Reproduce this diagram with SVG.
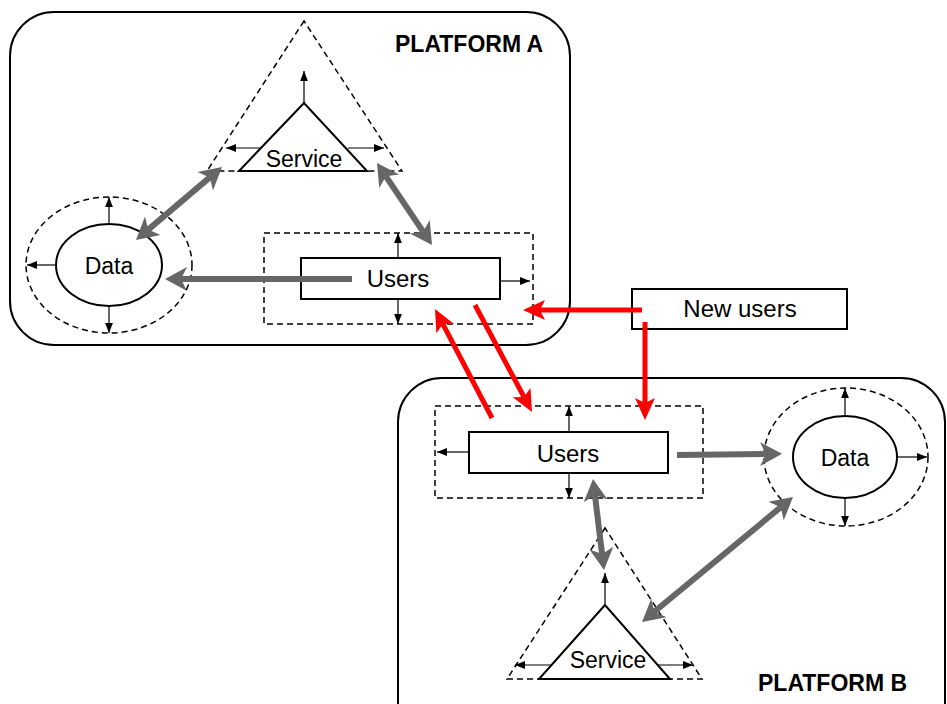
<svg xmlns="http://www.w3.org/2000/svg" width="947" height="704" viewBox="0 0 947 704">
<style>
.plat{fill:none;stroke:#000;stroke-width:2}
.dash{fill:none;stroke:#000;stroke-width:1.5;stroke-dasharray:6,4}
.solid{fill:#fff;stroke:#000;stroke-width:2}
.small{stroke:#000;stroke-width:1.2;fill:none;marker-end:url(#sm)}
.gray{stroke:#666;stroke-width:6;fill:none;marker-end:url(#gh)}
.gray2{stroke:#666;stroke-width:6;fill:none;marker-end:url(#gh);marker-start:url(#gh)}
.red{stroke:#ff0000;stroke-width:5;fill:none;marker-end:url(#rh)}
.lbl{font-family:"Liberation Sans",Arial,sans-serif;fill:#000}
.title{font-family:"Liberation Sans",Arial,sans-serif;font-weight:bold;font-size:23px;fill:#000}
</style>
<defs>
<marker id="sm" markerUnits="userSpaceOnUse" markerWidth="10" markerHeight="10" viewBox="0 -4 9 8" refX="9" refY="0" orient="auto"><path d="M0,-3.5 L9,0 L0,3.5 z" fill="#000"/></marker>
<marker id="gh" markerUnits="userSpaceOnUse" markerWidth="24" markerHeight="26" viewBox="0 -13 24 26" refX="6" refY="0" orient="auto-start-reverse"><path d="M0,-12 L22,0 L0,12 L6,0 z" fill="#666"/></marker>
<marker id="rh" markerUnits="userSpaceOnUse" markerWidth="24" markerHeight="24" viewBox="0 -11 24 22" refX="5" refY="0" orient="auto"><path d="M0,-10 L22,0 L0,10 L5,0 z" fill="#ff0000"/></marker>
</defs>

<g id="platformA"><rect class="plat" x="10" y="12" width="560" height="333" rx="44"/><text class="title" x="395" y="52">PLATFORM A</text></g>
<g id="platformB"><rect class="plat" x="398" y="378" width="547" height="370" rx="44"/><text class="title" x="758" y="691">PLATFORM B</text></g>

<g id="serviceA">
<polygon class="dash" points="304,21 207,171 402,171"/>
<polygon class="solid" points="304,103 239,171 367,171"/>
<line class="small" x1="304" y1="103" x2="304" y2="71"/>
<line class="small" x1="260" y1="148" x2="226" y2="148"/>
<line class="small" x1="348" y1="148" x2="384" y2="148"/>
<text class="lbl" x="304" y="167" font-size="23" text-anchor="middle">Service</text>
</g>

<g id="dataA">
<ellipse class="dash" cx="109" cy="265" rx="83" ry="68"/>
<ellipse class="solid" cx="109" cy="265" rx="53" ry="41"/>
<line class="small" x1="109" y1="224" x2="109" y2="197"/>
<line class="small" x1="56" y1="265" x2="27" y2="265"/>
<line class="small" x1="109" y1="306" x2="109" y2="333"/>
<text class="lbl" x="109" y="274" font-size="23" text-anchor="middle">Data</text>
</g>

<g id="usersA">
<rect class="dash" x="264" y="233" width="269" height="91"/>
<rect class="solid" x="301" y="258" width="199" height="41"/>
<line class="small" x1="398" y1="258" x2="398" y2="233"/>
<line class="small" x1="398" y1="299" x2="398" y2="324"/>
<line class="small" x1="500" y1="281" x2="530" y2="281"/>
<text class="lbl" x="398" y="287" font-size="24" text-anchor="middle">Users</text>
</g>

<g id="newUsers">
<rect class="solid" x="632" y="289" width="215" height="40"/>
<text class="lbl" x="740" y="317" font-size="24" text-anchor="middle">New users</text>
</g>

<g id="usersB">
<rect class="dash" x="435" y="406" width="268" height="92"/>
<rect class="solid" x="469" y="432" width="199" height="41"/>
<line class="small" x1="569" y1="432" x2="569" y2="406"/>
<line class="small" x1="569" y1="473" x2="569" y2="498"/>
<line class="small" x1="469" y1="452" x2="437" y2="452"/>
<text class="lbl" x="568" y="462" font-size="24" text-anchor="middle">Users</text>
</g>

<g id="dataB">
<ellipse class="dash" cx="846" cy="457" rx="82" ry="69"/>
<ellipse class="solid" cx="845" cy="457" rx="52" ry="41"/>
<line class="small" x1="845" y1="416" x2="845" y2="388"/>
<line class="small" x1="897" y1="457" x2="927" y2="457"/>
<line class="small" x1="845" y1="498" x2="845" y2="526"/>
<text class="lbl" x="845" y="466" font-size="23" text-anchor="middle">Data</text>
</g>

<g id="serviceB">
<polygon class="dash" points="605,528 507,679 702,679"/>
<polygon class="solid" points="605,605 539,679 670,679"/>
<line class="small" x1="605" y1="605" x2="605" y2="573"/>
<line class="small" x1="551" y1="665" x2="515" y2="665"/>
<line class="small" x1="657" y1="665" x2="693" y2="665"/>
<text class="lbl" x="608" y="668" font-size="23" text-anchor="middle">Service</text>
</g>

<g id="connectors">
<line class="gray2" x1="209.8" y1="177.4" x2="148.2" y2="229.6"/>
<line class="gray2" x1="385.9" y1="176.3" x2="423.1" y2="231.7"/>
<line class="gray" x1="352" y1="279" x2="181" y2="279"/>
<line class="gray" x1="677" y1="455" x2="766" y2="454"/>
<line class="gray2" x1="594.9" y1="494.9" x2="602.1" y2="554.1"/>
<line class="gray2" x1="780.7" y1="507.2" x2="654.3" y2="611.8"/>
<line class="red" x1="642" y1="310" x2="540" y2="310"/>
<line class="red" x1="645" y1="322" x2="645" y2="403"/>
<line class="red" x1="475" y1="305" x2="524" y2="397"/>
<line class="red" x1="492" y1="418" x2="442.9" y2="324.1"/>
</g>
</svg>
